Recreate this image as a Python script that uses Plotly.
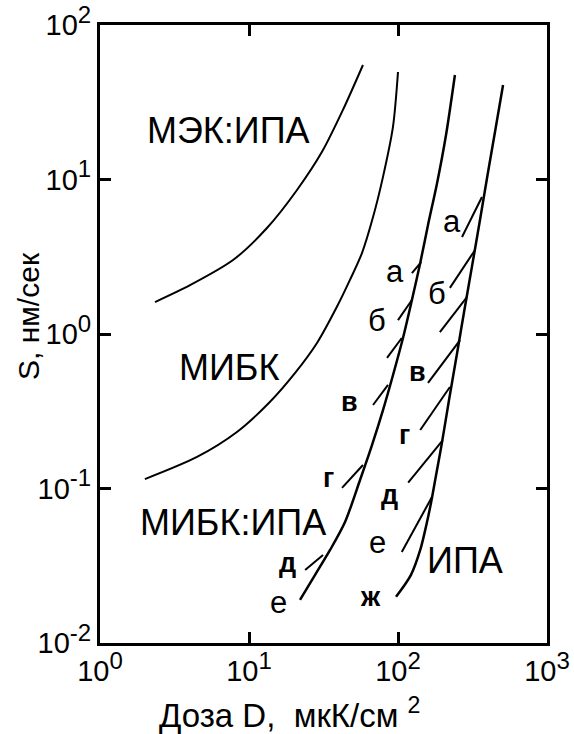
import numpy as np
import plotly.graph_objects as go

# ---- data ----
mek_x = [2.34, 4.02, 7.81, 13.2, 21.0, 30.9, 42.7, 58.2]
mek_y = [1.61, 2.07, 3.01, 4.85, 8.55, 15.1, 28.2, 55.1]

mibk_x = [2.00, 4.48, 8.30, 13.8, 20.4, 28.6, 38.9, 47.6, 57.3, 68.0, 79.3, 92.5, 100]
mibk_y = [0.115, 0.160, 0.232, 0.363, 0.560, 0.875, 1.50, 2.24, 3.34, 5.71, 10.4, 21.9, 49.6]

mibk_ipa_x = [22.0, 27.7, 35.0, 44.1, 55.6, 66.9, 79.3, 92.6, 108, 124, 141, 159, 183, 210, 241]
mibk_ipa_y = [0.0190, 0.0275, 0.0400, 0.0607, 0.1135, 0.191, 0.322, 0.543, 0.942, 1.66, 2.88, 5.08, 9.49, 19.4, 47.5]

ipa_x = [97.0, 122, 141, 155, 168, 180, 196, 220, 248, 279, 315, 355, 399, 450, 507]
ipa_y = [0.0199, 0.0275, 0.0400, 0.0581, 0.0843, 0.122, 0.191, 0.374, 0.731, 1.43, 2.80, 5.47, 10.7, 20.9, 40.9]

# short branch segments (start, end) for the МИБК:ИПА family
mibk_ipa_branch_x = [[124, 143], [100, 124], [84.4, 106], [68.0, 85.7], [42.1, 58.2], [23.8, 31.4]]
mibk_ipa_branch_y = [[2.48, 2.92], [1.23, 1.66], [0.700, 0.942], [0.347, 0.468], [0.101, 0.142], [0.0297, 0.0371]]

# short branch segments for the ИПА family
ipa_branch_x = [[269, 366], [223, 329], [191, 290], [159, 261], [141, 223], [117, 200], [106, 169]]
ipa_branch_y = [[4.24, 7.70], [1.99, 3.50], [1.03, 1.73], [0.482, 0.914], [0.239, 0.454], [0.109, 0.206], [0.0388, 0.0881]]

# curve labels
big_labels = ["МЭК:ИПА", "МИБК", "МИБК:ИПА", "ИПА"]
big_label_x = [7.23, 7.34, 7.81, 282]
big_label_y = [20.9, 0.611, 0.0607, 0.0344]

left_letters = ["а", "б", "в", "г", "д", "е"]
left_letter_x = [95.5, 72.3, 47.6, 33.9, 18.0, 15.7]
left_letter_y = [2.52, 1.23, 0.363, 0.117, 0.033, 0.0182]

right_letters = ["а", "б", "в", "г", "д", "е", "ж"]
right_letter_x = [230, 183, 136, 111, 88.3, 72.3, 64.9]
right_letter_y = [5.31, 1.84, 0.568, 0.222, 0.0908, 0.045, 0.0199]

x_tickvals = [1, 10, 100, 1000]
x_tickexp = ["0", "1", "2", "3"]
y_tickvals = [0.01, 0.1, 1, 10, 100]
y_tickexp = ["-2", "-1", "0", "1", "2"]

FONT = "Liberation Sans, Arial, sans-serif"

def sup_label(e):
    return f"10<sup><span style='font-size:24px'>{e}</span></sup>"

fig = go.Figure()

def add_line(x, y, w):
    fig.add_trace(go.Scatter(x=x, y=y, mode="lines",
                             line=dict(color="black", width=w, shape="spline", smoothing=0.8),
                             showlegend=False, hoverinfo="skip"))

add_line(mek_x, mek_y, 2)
add_line(mibk_x, mibk_y, 2)
add_line(mibk_ipa_x, mibk_ipa_y, 2.5)
add_line(ipa_x, ipa_y, 2.5)
for bx, by in zip(mibk_ipa_branch_x, mibk_ipa_branch_y):
    add_line(bx, by, 2)
for bx, by in zip(ipa_branch_x, ipa_branch_y):
    add_line(bx, by, 2)

ann = []
for t, x, y in zip(big_labels, big_label_x, big_label_y):
    ann.append(dict(x=np.log10(x), y=np.log10(y), xref="x", yref="y", text=t,
                    showarrow=False, font=dict(family=FONT, size=36, color="black")))
bold_set = {"в", "г", "д", "ж"}
for letters, xs, ys in [(left_letters, left_letter_x, left_letter_y),
                        (right_letters, right_letter_x, right_letter_y)]:
    for t, x, y in zip(letters, xs, ys):
        txt = f"<b>{t}</b>" if t in bold_set else t
        ann.append(dict(x=np.log10(x), y=np.log10(y), xref="x", yref="y", text=txt,
                        showarrow=False,
                        font=dict(family=FONT, size=27 if t in bold_set else 31, color="black")))

# axis titles as annotations (plot area: x 100..547, y 25..643 px)
ann.append(dict(xref="paper", yref="paper", x=(289 - 100) / 447, y=-(713 - 643) / 618,
                xanchor="center", yanchor="middle",
                text="Доза D,  мкК/см <sup>2</sup>", showarrow=False,
                font=dict(family=FONT, size=33, color="black")))
ann.append(dict(xref="paper", yref="paper", x=-(100 - 28) / 447, y=(643 - 316) / 618,
                xanchor="center", yanchor="middle",
                text="S, нм/сек", textangle=-90, showarrow=False,
                font=dict(family=FONT, size=30, color="black")))

axis_common = dict(type="log", showline=True, linecolor="black", linewidth=3,
                   mirror="ticks", ticks="inside", ticklen=11, tickwidth=3,
                   tickcolor="black", showgrid=False, zeroline=False, automargin=False,
                   ticklabeloverflow="allow",
                   tickfont=dict(family=FONT, size=29, color="black"))

fig.update_layout(
    width=574, height=734,
    margin=dict(l=100, r=27, t=25, b=91, autoexpand=False),
    paper_bgcolor="white", plot_bgcolor="white",
    xaxis=dict(range=[0, 3], tickvals=x_tickvals,
               ticktext=[sup_label(e) for e in x_tickexp], **axis_common),
    yaxis=dict(range=[-2, 2], tickvals=y_tickvals,
               ticktext=[sup_label(e) for e in y_tickexp], **axis_common),
    annotations=ann,
)

# remove the browser's default 8 px body margin so the figure fills the window
fig.write_html("out.html", config={"displayModeBar": False},
               post_script="document.body.style.margin='0';")
